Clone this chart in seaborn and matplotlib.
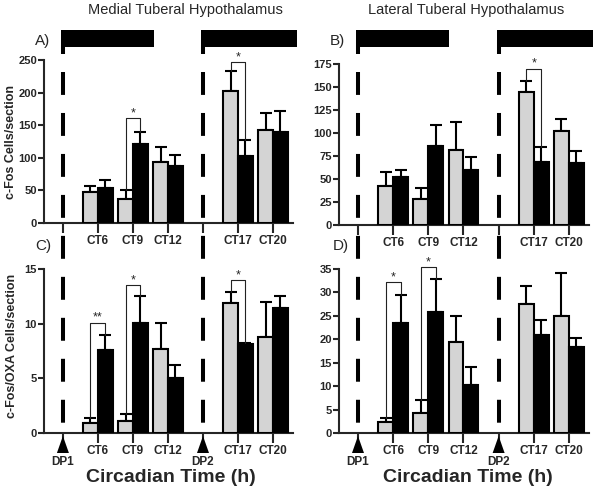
import numpy as np
import pandas as pd
import matplotlib
matplotlib.use("Agg")
import matplotlib.pyplot as plt
import seaborn as sns
from matplotlib.lines import Line2D
from matplotlib.patches import Rectangle, Polygon

# ---- data ----
ORDER = ['DP1', 'CT6', 'CT9', 'CT12', 'DP2', 'CT17', 'CT20']
ct_times = ['CT6', 'CT9', 'CT12', 'CT17', 'CT20']

# A) medial tuberal hypothalamus, c-Fos cells/section
a_grey = [47, 37, 93, 203, 142]
a_grey_err = [10, 14, 23, 30, 27]
a_black = [53, 121, 88, 102, 139]
a_black_err = [13, 19, 17, 26, 33]

# B) lateral tuberal hypothalamus, c-Fos cells/section
b_grey = [42.5, 28, 81.5, 144.8, 102.6]
b_grey_err = [15.5, 12, 30.6, 12.2, 12.6]
b_black = [52.6, 85.7, 59.8, 68.4, 67]
b_black_err = [6.8, 23, 14.4, 16.2, 13.3]

# C) medial, c-Fos/OXA cells/section
c_grey = [0.92, 1.1, 7.65, 11.88, 8.75]
c_grey_err = [0.46, 0.61, 2.39, 0.98, 3.19]
c_black = [7.6, 10.1, 5.05, 8.11, 11.45]
c_black_err = [1.37, 2.45, 1.19, 0.15, 1.1]

# D) lateral, c-Fos/OXA cells/section
d_grey = [2.36, 4.3, 19.5, 27.6, 24.9]
d_grey_err = [0.84, 2.7, 5.4, 3.7, 9.2]
d_black = [23.4, 25.9, 10.3, 21.0, 18.3]
d_black_err = [6.1, 7.0, 3.8, 3.1, 1.9]

# significance brackets: (time, bracket height, label)
a_sig = [('CT9', 161, '*'), ('CT17', 247, '*')]
b_sig = [('CT17', 170, '*')]
c_sig = [('CT6', 10.1, '**'), ('CT9', 13.5, '*'), ('CT17', 13.96, '*')]
d_sig = [('CT6', 32.2, '*'), ('CT9', 35.4, '*')]

# ---- style ----
sns.set_style("ticks")
plt.rcParams['font.family'] = ['Liberation Sans', 'DejaVu Sans']
plt.rcParams['lines.scale_dashes'] = False

W, H = 600, 501
fig = plt.figure(figsize=(W / 100, H / 100), dpi=100)
fig.patch.set_facecolor('white')


def px_axes(left, right, top, bottom):
    return fig.add_axes([left / W, 1 - bottom / H, (right - left) / W, (bottom - top) / H])


def to_fig(ax, x, y_px):
    disp = ax.transData.transform((x, 0))
    fx = fig.transFigure.inverted().transform(disp)[0]
    return fx, 1 - y_px / H


def panel(ax, grey, grey_err, black, black_err, sig, ymax, ystep):
    df = pd.DataFrame({
        'time': ct_times * 2,
        'group': ['grey'] * 5 + ['black'] * 5,
        'value': grey + black,
    })
    sns.barplot(data=df, x='time', y='value', hue='group', order=ORDER,
                hue_order=['grey', 'black'],
                palette={'grey': '#d4d4d4', 'black': 'black'},
                edgecolor='black', linewidth=1.5, width=0.85,
                errorbar=None, legend=False, ax=ax, zorder=3)
    errs = {('grey', t): e for t, e in zip(ct_times, grey_err)}
    errs.update({('black', t): e for t, e in zip(ct_times, black_err)})
    centers = {}
    for p in ax.patches:
        cx = p.get_x() + p.get_width() / 2
        k = int(round(cx))
        g = 'grey' if cx < k else 'black'
        key = (g, ORDER[k])
        if key not in errs:
            continue
        h = p.get_height()
        centers[key] = (cx, h + errs[key])
        ax.errorbar(cx, h, yerr=[[0], [errs[key]]], fmt='none', ecolor='black',
                    elinewidth=1.5, capsize=4, capthick=1.5, zorder=2, clip_on=False)
    for t, top, lab in sig:
        xg, yg = centers[('grey', t)]
        xb, yb = centers[('black', t)]
        ax.plot([xg, xg, xb, xb], [yg, top, top, yb], color='#222222', lw=0.8,
                clip_on=False, zorder=4)
        ax.annotate(lab, ((xg + xb) / 2, top), xytext=(0, 3.5), textcoords='offset points',
                    ha='center', va='center', fontsize=9, annotation_clip=False)
    ax.set_xlim(-0.54, 6.57)
    ax.set_ylim(0, ymax)
    ax.set_yticks(np.arange(0, ymax + 0.01, ystep))
    ax.set_xticks(range(len(ORDER)))
    ax.set_xticklabels(['' if t.startswith('DP') else t for t in ORDER])
    ax.set_xlabel('')
    ax.set_ylabel('')
    sns.despine(ax=ax)
    for s in ['left', 'bottom']:
        ax.spines[s].set_linewidth(1.5)
    ax.tick_params(axis='x', length=7, width=1.5, pad=2, labelsize=8.5)
    ax.tick_params(axis='y', length=4, width=1.5, pad=1, labelsize=8)
    for lab in ax.get_xticklabels() + ax.get_yticklabels():
        lab.set_fontweight('bold')


axA = px_axes(44, 293, 60, 223)
axB = px_axes(339, 589, 64, 225)
axC = px_axes(44, 293, 269, 433)
axD = px_axes(339, 589, 269, 433)

panel(axA, a_grey, a_grey_err, a_black, a_black_err, a_sig, 250, 50)
panel(axB, b_grey, b_grey_err, b_black, b_black_err, b_sig, 175, 25)
panel(axC, c_grey, c_grey_err, c_black, c_black_err, c_sig, 15, 5)
panel(axD, d_grey, d_grey_err, d_black, d_black_err, d_sig, 35, 5)

# dark-phase bars, dashed pulse lines, DP markers
for top_ax, bot_ax in [(axA, axC), (axB, axD)]:
    for x0, x1 in [(0, 2.6), (4, 6.68)]:
        fx0, fy_top = to_fig(top_ax, x0, 30)
        fx1, fy_bot = to_fig(top_ax, x1, 47)
        fig.add_artist(Rectangle((fx0 - 2 / W, fy_bot), fx1 - fx0 + 2 / W, fy_top - fy_bot,
                                 transform=fig.transFigure, color='black', lw=0))
        fx, _ = to_fig(top_ax, x0, 0)
        fig.add_artist(Line2D([fx, fx], [1 - 40 / H, 1 - 54 / H], transform=fig.transFigure,
                              color='black', lw=2.9, solid_capstyle='butt'))
        fig.add_artist(Line2D([fx, fx], [1 - 72 / H, 1 - 424 / H], transform=fig.transFigure,
                              color='black', lw=2.9, linestyle=(0, (16.5, 13.0))))
    for x0, name in [(0, 'DP1'), (4, 'DP2')]:
        fx, _ = to_fig(bot_ax, x0, 0)
        tri = Polygon([[fx - 6 / W, 1 - 453 / H], [fx + 6 / W, 1 - 453 / H], [fx, 1 - 436 / H]],
                      closed=True, transform=fig.transFigure, color='black', lw=0)
        fig.add_artist(tri)
        fig.text(fx, 1 - 462 / H, name, ha='center', va='center', fontsize=8.5,
                 fontweight='bold')

# titles and labels
fig.text(185 / W, 1 - 10 / H, 'Medial Tuberal Hypothalamus', ha='center', va='center', fontsize=10.5)
fig.text(466 / W, 1 - 10 / H, 'Lateral Tuberal Hypothalamus', ha='center', va='center', fontsize=10.5)
fig.text(35 / W, 1 - 41 / H, 'A)', ha='left', va='center', fontsize=11)
fig.text(330 / W, 1 - 41 / H, 'B)', ha='left', va='center', fontsize=11)
fig.text(35 / W, 1 - 246 / H, 'C)', ha='left', va='center', fontsize=11)
fig.text(333 / W, 1 - 246 / H, 'D)', ha='left', va='center', fontsize=11)
fig.text(11 / W, 1 - 142 / H, 'c-Fos Cells/section', rotation=90, ha='center', va='center',
         fontsize=9, fontweight='bold')
fig.text(12 / W, 1 - 346 / H, 'c-Fos/OXA Cells/section', rotation=90, ha='center', va='center',
         fontsize=9, fontweight='bold')
fig.text(171 / W, 1 - 478 / H, 'Circadian Time (h)', ha='center', va='center', fontsize=14,
         fontweight='bold')
fig.text(468 / W, 1 - 478 / H, 'Circadian Time (h)', ha='center', va='center', fontsize=14,
         fontweight='bold')

fig.savefig('out.png', dpi=100)
